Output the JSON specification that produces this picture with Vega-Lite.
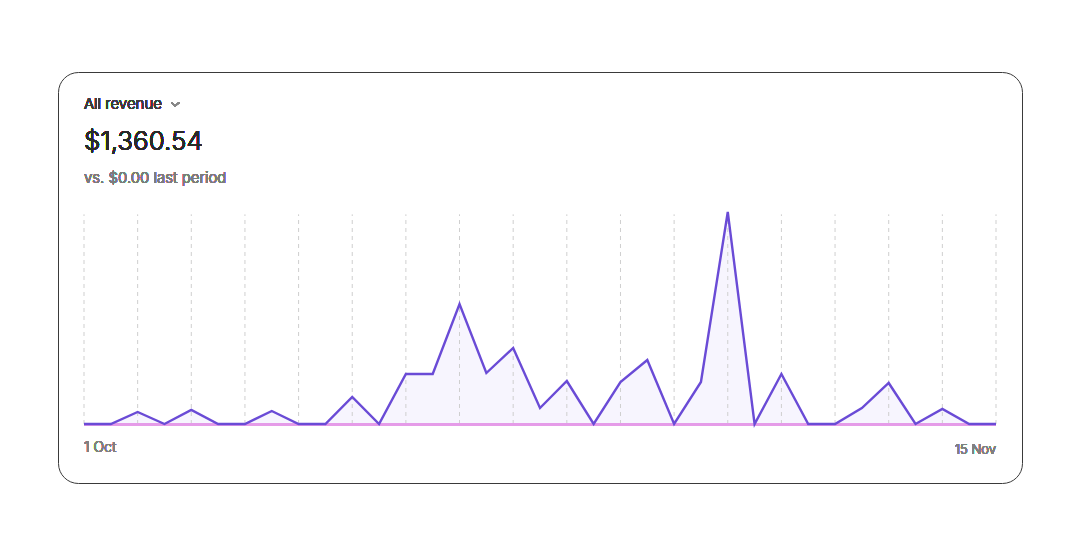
{
  "$schema": "https://vega.github.io/schema/vega-lite/v6.json",
  "width": 1080,
  "height": 553,
  "autosize": {"type": "fit", "contains": "padding"},
  "padding": {"left": 58, "top": 72, "right": 58, "bottom": 70},
  "background": "white",
  "config": {
    "view": {"stroke": "#3a3a3a", "strokeWidth": 1, "cornerRadius": 20},
    "font": "Inter"
  },
  "data": {
    "values": [
      {"i": 0, "v": 0}, {"i": 1, "v": 0}, {"i": 2, "v": 17.1}, {"i": 3, "v": 0},
      {"i": 4, "v": 20.0}, {"i": 5, "v": 0}, {"i": 6, "v": 0}, {"i": 7, "v": 18.5},
      {"i": 8, "v": 0}, {"i": 9, "v": 0}, {"i": 10, "v": 38.5}, {"i": 11, "v": 0},
      {"i": 12, "v": 71.3}, {"i": 13, "v": 71.3}, {"i": 14, "v": 171.1}, {"i": 15, "v": 72.7},
      {"i": 16, "v": 108.4}, {"i": 17, "v": 22.8}, {"i": 18, "v": 61.3}, {"i": 19, "v": 0},
      {"i": 20, "v": 59.9}, {"i": 21, "v": 91.3}, {"i": 22, "v": 0}, {"i": 23, "v": 59.9},
      {"i": 24, "v": 302.3}, {"i": 25, "v": 0}, {"i": 26, "v": 71.3}, {"i": 27, "v": 0},
      {"i": 28, "v": 0}, {"i": 29, "v": 22.8}, {"i": 30, "v": 58.5}, {"i": 31, "v": 0},
      {"i": 32, "v": 21.4}, {"i": 33, "v": 0}, {"i": 34, "v": 0}
    ]
  },
  "layer": [
    {
      "mark": {"type": "area", "color": "#8b6cf0", "opacity": 0.07},
      "encoding": {
        "x": {"field": "i", "type": "quantitative", "axis": null, "scale": {"domain": [0, 34], "range": [26, 938], "nice": false, "zero": false}},
        "y": {"field": "v", "type": "quantitative", "axis": null, "scale": {"domain": [0, 302.3], "range": [352, 140], "nice": false}}
      }
    },
    {
      "transform": [{"filter": "datum.i % 2 == 0"}],
      "mark": {"type": "rule", "color": "#cfcfcf", "strokeWidth": 1, "strokeDash": [4, 4]},
      "encoding": {
        "x": {"field": "i", "type": "quantitative"},
        "y": {"datum": 0, "type": "quantitative"},
        "y2": {"datum": 299}
      }
    },
    {
      "mark": {"type": "rule", "color": "#e59be8", "strokeWidth": 2.2},
      "encoding": {
        "x": {"datum": 0, "type": "quantitative"},
        "x2": {"datum": 34},
        "y": {"datum": -0.6, "type": "quantitative"}
      }
    },
    {
      "mark": {"type": "line", "color": "#6a4bd6", "strokeWidth": 2.4, "strokeJoin": "miter"},
      "encoding": {
        "x": {"field": "i", "type": "quantitative"},
        "y": {"field": "v", "type": "quantitative"}
      }
    },
    {
      "mark": {"type": "text", "text": "All revenue", "align": "left", "baseline": "middle", "fontSize": 15, "fontWeight": 300, "color": "#3c3c3c"},
      "encoding": {
        "x": {"datum": 0, "type": "quantitative"},
        "y": {"datum": 456, "type": "quantitative"}
      }
    },
    {
      "mark": {"type": "point", "shape": "M-1,-0.45L0,0.45L1,-0.45", "filled": false, "size": 60, "color": "#888888", "strokeWidth": 1.1, "opacity": 1},
      "encoding": {
        "x": {"datum": 3.4, "type": "quantitative"},
        "y": {"datum": 456, "type": "quantitative"}
      }
    },
    {
      "mark": {"type": "text", "text": "$1,360.54", "align": "left", "baseline": "middle", "fontSize": 26, "fontWeight": 300, "color": "#2a2a2a"},
      "encoding": {
        "x": {"datum": 0, "type": "quantitative"},
        "y": {"datum": 402, "type": "quantitative"}
      }
    },
    {
      "mark": {"type": "text", "text": "vs. $0.00 last period", "align": "left", "baseline": "middle", "fontSize": 15, "fontWeight": 300, "color": "#7c7c7c"},
      "encoding": {
        "x": {"datum": 0, "type": "quantitative"},
        "y": {"datum": 350.8, "type": "quantitative"}
      }
    },
    {
      "mark": {"type": "text", "text": "1 Oct", "align": "left", "baseline": "middle", "fontSize": 14, "fontWeight": 300, "color": "#808080"},
      "encoding": {
        "x": {"datum": 0, "type": "quantitative"},
        "y": {"datum": -34, "type": "quantitative"}
      }
    },
    {
      "mark": {"type": "text", "text": "15 Nov", "align": "right", "baseline": "middle", "fontSize": 13, "fontWeight": 300, "color": "#808080"},
      "encoding": {
        "x": {"datum": 34, "type": "quantitative"},
        "y": {"datum": -37, "type": "quantitative"}
      }
    }
  ]
}
